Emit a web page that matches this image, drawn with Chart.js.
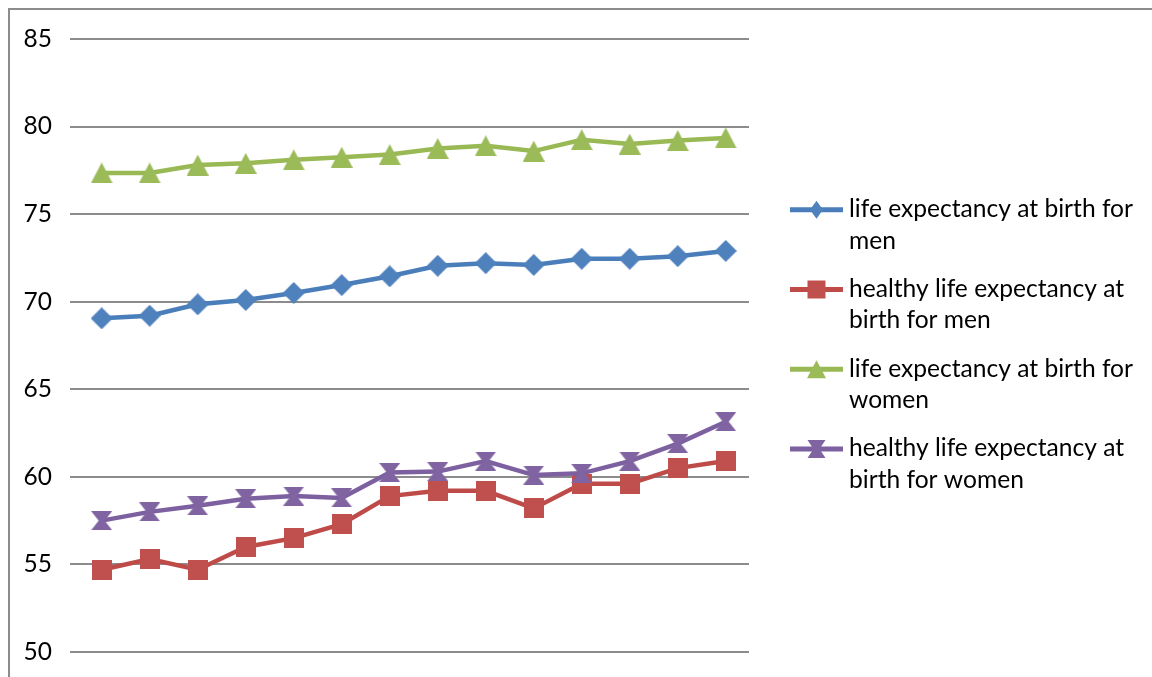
<!DOCTYPE html>
<html>
<head>
<meta charset="utf-8">
<script src="https://cdn.jsdelivr.net/npm/chart.js@4.4.0/dist/chart.umd.min.js"></script>
<style>
  html, body { margin: 0; padding: 0; background: #ffffff; overflow: hidden; }
  #wrap { width: 1152px; height: 677px; position: relative; }
</style>
</head>
<body>
<div id="wrap"><canvas id="c" width="1152" height="677"></canvas></div>
<script>
// Observation periods (x positions, unlabelled on the chart)
const periods = [1, 2, 3, 4, 5, 6, 7, 8, 9, 10, 11, 12, 13, 14];

// Life expectancy values in years
const lifeMen          = [69.05, 69.2, 69.85, 70.1, 70.5, 70.95, 71.45, 72.05, 72.2, 72.1, 72.45, 72.45, 72.6, 72.9];
const healthyLifeMen   = [54.7, 55.3, 54.7, 56.0, 56.5, 57.3, 58.9, 59.2, 59.2, 58.2, 59.6, 59.6, 60.5, 60.9];
const lifeWomen        = [77.35, 77.35, 77.8, 77.9, 78.1, 78.25, 78.4, 78.75, 78.9, 78.6, 79.25, 79.0, 79.2, 79.35];
const healthyLifeWomen = [57.5, 58.0, 58.35, 58.75, 58.9, 58.8, 60.25, 60.3, 60.9, 60.1, 60.2, 60.9, 61.9, 63.15];

// Series names (wrapped as in the legend)
const seriesNames = [
  ['life expectancy at birth for', 'men'],
  ['healthy life expectancy at', 'birth for men'],
  ['life expectancy at birth for', 'women'],
  ['healthy life expectancy at', 'birth for women']
];

// Value axis ticks
const yTicks = [50, 55, 60, 65, 70, 75, 80, 85];

const FONT = 'Lato, "Open Sans", sans-serif';

// Marker shapes painted on small canvases
function shapePath(ctx, kind, x, y, w, h) {
  ctx.beginPath();
  if (kind === 'diamond') {
    ctx.moveTo(x + w / 2, y); ctx.lineTo(x + w, y + h / 2);
    ctx.lineTo(x + w / 2, y + h); ctx.lineTo(x, y + h / 2);
  } else if (kind === 'square') {
    ctx.rect(x, y, w, h);
  } else if (kind === 'triangle') {
    ctx.moveTo(x + w / 2, y); ctx.lineTo(x + w, y + h); ctx.lineTo(x, y + h);
  } else if (kind === 'hourglass') {
    const wa = 3;
    ctx.moveTo(x, y); ctx.lineTo(x + w, y); ctx.lineTo(x + w / 2 + wa, y + h / 2);
    ctx.lineTo(x + w, y + h); ctx.lineTo(x, y + h); ctx.lineTo(x + w / 2 - wa, y + h / 2);
  }
  ctx.closePath();
}

function makeMarker(kind, w, h, fill) {
  const cv = document.createElement('canvas');
  cv.width = w; cv.height = h;
  const ctx = cv.getContext('2d');
  ctx.fillStyle = fill;
  shapePath(ctx, kind, 0, 0, w, h);
  ctx.fill();
  return cv;
}

const styles = [
  { line: '#4A7EBB', fill: '#4F81BD', kind: 'diamond',   pw: 22, ph: 22, lw: 13, lh: 18 },
  { line: '#BE4B48', fill: '#C0504D', kind: 'square',    pw: 20, ph: 20, lw: 18, lh: 18 },
  { line: '#98B954', fill: '#9BBB59', kind: 'triangle',  pw: 22, ph: 21, lw: 19, lh: 18 },
  { line: '#7D60A0', fill: '#8064A2', kind: 'hourglass', pw: 21, ph: 19, lw: 18, lh: 18 }
];

const seriesValues = [lifeMen, healthyLifeMen, lifeWomen, healthyLifeWomen];

const datasets = seriesValues.map((vals, i) => ({
  label: seriesNames[i].join(' '),
  data: periods.map((p, k) => ({ x: p, y: vals[k] })),
  borderColor: styles[i].line,
  backgroundColor: styles[i].fill,
  borderWidth: 4.5,
  pointStyle: makeMarker(styles[i].kind, styles[i].pw, styles[i].ph, styles[i].fill),
  pointRadius: 10,
  pointHoverRadius: 10,
  tension: 0,
  clip: false,
  order: 4 - i
}));

// Outer frame of the chart
const framePlugin = {
  id: 'frame',
  beforeDraw(chart) {
    const ctx = chart.ctx;
    ctx.save();
    ctx.fillStyle = '#ffffff';
    ctx.fillRect(0, 0, chart.width, chart.height);
    ctx.strokeStyle = '#8c8c8c';
    ctx.lineWidth = 2;
    ctx.beginPath();
    ctx.moveTo(9, chart.height + 5);
    ctx.lineTo(9, 9);
    ctx.lineTo(chart.width + 5, 9);
    ctx.stroke();
    ctx.restore();
  }
};

// Legend at the right: line sample with marker, wrapped series name
const legendPlugin = {
  id: 'sideLegend',
  afterDraw(chart) {
    const ctx = chart.ctx;
    ctx.save();
    const x0 = 790, x1 = 843, tx = 849;
    const base0 = 217.3, itemStep = 79.7, lineStep = 31.2;
    chart.data.datasets.forEach((ds, i) => {
      const st = styles[i];
      const b = base0 + i * itemStep;
      const cy = b - 7.5;
      ctx.strokeStyle = st.line;
      ctx.lineWidth = 5;
      ctx.beginPath();
      ctx.moveTo(x0, cy); ctx.lineTo(x1, cy);
      ctx.stroke();
      ctx.fillStyle = st.fill;
      shapePath(ctx, st.kind, (x0 + x1) / 2 - st.lw / 2, cy - st.lh / 2, st.lw, st.lh);
      ctx.fill();
      ctx.fillStyle = '#000000';
      ctx.font = '24.6px ' + FONT;
      ctx.textBaseline = 'alphabetic';
      ctx.textAlign = 'left';
      seriesNames[i].forEach((t, k) => ctx.fillText(t, tx, b + k * lineStep));
    });
    ctx.restore();
  }
};

new Chart(document.getElementById('c'), {
  type: 'line',
  data: { datasets },
  plugins: [framePlugin, legendPlugin],
  options: {
    responsive: false,
    animation: false,
    devicePixelRatio: 1,
    layout: { padding: { left: 0, top: 39, right: 403, bottom: 25 } },
    plugins: { legend: { display: false }, tooltip: { enabled: false } },
    scales: {
      x: {
        type: 'linear',
        display: false,
        min: periods[0] - 0.66,
        max: periods[periods.length - 1] + 0.485
      },
      y: {
        min: yTicks[0],
        max: yTicks[yTicks.length - 1],
        afterBuildTicks(scale) { scale.ticks = yTicks.map(v => ({ value: v })); },
        afterFit(scale) {
          scale.width = 70;
          scale.paddingTop = 0;
          scale.paddingBottom = 0;
        },
        border: { display: false },
        grid: { color: '#8c8c8c', lineWidth: 2, drawTicks: false },
        ticks: { padding: 18, color: '#000000', font: { family: FONT, size: 24.5 } }
      }
    }
  }
});
</script>
</body>
</html>
